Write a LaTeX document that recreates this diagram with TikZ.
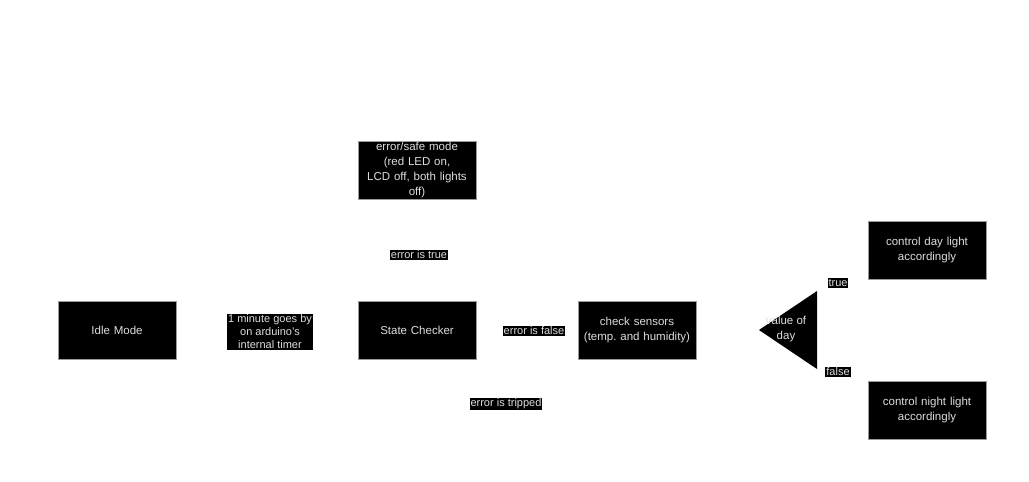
\documentclass[tikz,border=0pt]{standalone}
\usepackage{fontspec}
\setmainfont{Liberation Sans}
\usetikzlibrary{arrows.meta,backgrounds}
\frenchspacing
\definecolor{txt}{HTML}{DDDDDD}
\definecolor{edge}{HTML}{9A9A9A}
\begin{document}
\begin{tikzpicture}[x=1pt,y=-1pt,
  box/.style={draw=edge, line width=0.6pt, fill=black, text=txt, minimum width=118pt, minimum height=58pt, align=center, inner xsep=2pt, inner ysep=0.5pt, font=\fontsize{11.5}{15.5}\selectfont, text width=112pt},
  tallbox/.style={box, font=\fontsize{11.5}{14.8}\selectfont},
  lbl/.style={fill=black, text=txt, inner sep=1pt, align=center, font=\fontsize{11}{13}\selectfont},
  conn/.style={draw=white, line width=0.8pt, -{Stealth[length=6pt]}}]
\useasboundingbox (0,0) rectangle (1029,482);
\node[tallbox] (err) at (417,170) {error/safe mode\\(red LED on,\\LCD off, both lights\\off)};
\node[box] (idle) at (117,330) {Idle Mode};
\node[box] (state) at (417,330) {State Checker};
\node[box] (sens) at (637,330) {check sensors\\(temp. and humidity)};
\node[box] (day) at (927,250) {control day light\\accordingly};
\node[box] (night) at (927,410) {control night light\\accordingly};
\coordinate (tl) at (759,330);
\coordinate (tt) at (817,291);
\coordinate (tb) at (817,369);
\fill[black] (tl) -- (tt) -- (tb) -- cycle;
\node[text=txt, align=center, font=\fontsize{11.5}{15}\selectfont, inner sep=0pt] (val) at (786,329) {value of\\day};
\coordinate (trup) at (817,300);
\coordinate (trdn) at (817,360);
\coordinate (loopa) at (637,404);
\coordinate (loopb) at (417,404);
\begin{scope}[on background layer]
\fill[white] (0,0) rectangle (1029,482);
\draw[conn] (idle) -- (state);
\draw[conn] (state) -- (err);
\draw[conn] (state) -- (sens);
\draw[conn] (sens) -- (tl);
\draw[conn] (trup) -- (day.west);
\draw[conn] (trdn) -- (night.west);
\draw[conn] (sens.south) -- (loopa) -- (loopb) -- (state.south);
\end{scope}
\node[lbl] (l1) at (270,332) {1 minute goes by\\on arduino's\\internal timer};
\node[lbl] (l2) at (419,255) {error is true};
\node[lbl] (l3) at (534,331) {error is false};
\node[lbl] (l4) at (506,404) {error is tripped};
\node[lbl] (l5) at (838,283) {true};
\node[lbl] (l6) at (838,372) {false};
\end{tikzpicture}
\end{document}
